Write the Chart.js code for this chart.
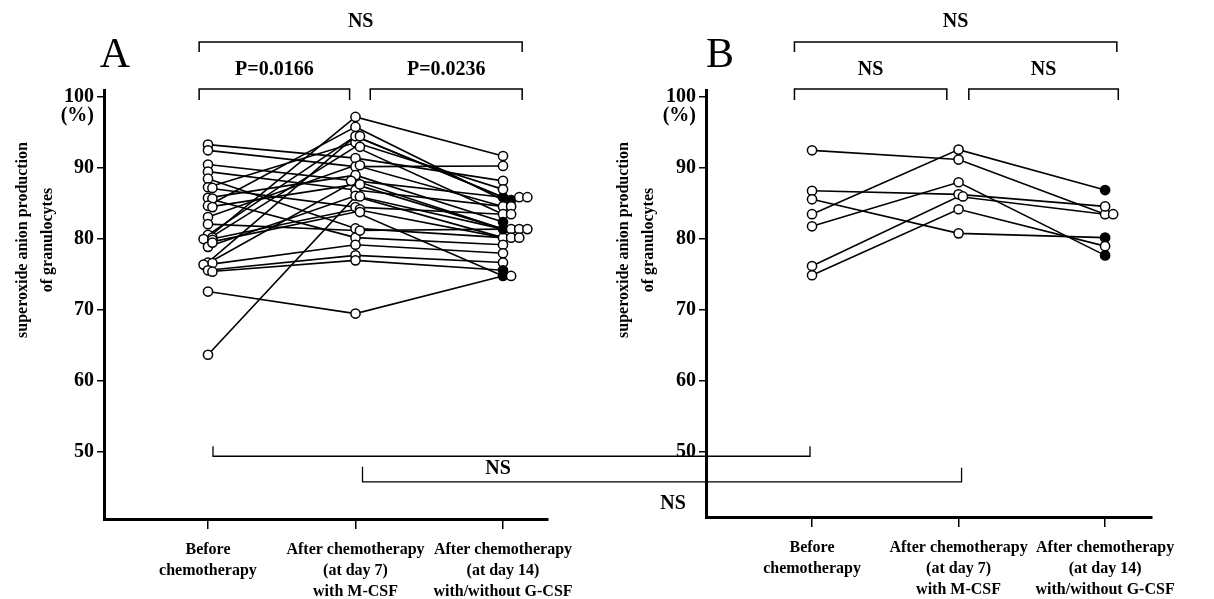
<!DOCTYPE html>
<html><head><meta charset="utf-8">
<script src="https://cdn.jsdelivr.net/npm/chart.js@4/dist/chart.umd.min.js"></script>
<style>
html,body{margin:0;padding:0;background:#fff;}
#wrap{position:relative;width:1214px;height:599px;overflow:hidden;}
.pane{position:absolute;top:0;width:607px;height:599px;}
</style></head><body>
<div id="wrap">
<div class="pane" style="left:0"><canvas id="cA"></canvas></div>
<div class="pane" style="left:607px"><canvas id="cB"></canvas></div>
</div>
<script>
// ---------- data ----------
const categories = [
  ["Before", "chemotherapy"],
  ["After chemotherapy", "(at day 7)", "with M-CSF"],
  ["After chemotherapy", "(at day 14)", "with/without G-CSF"]
];
const yTickValues = [50, 60, 70, 80, 90, 100];
const yTitle = ["superoxide anion production", "of granulocytes"];

// Panel A (each index = one patient)
const beforeA = [93.3, 92.5, 90.5, 89.5, 88.5, 87.3, 87.2, 85.8, 85.7, 84.7, 84.5, 83.1, 82.1, 80.6, 80.2, 80.0, 79.9, 78.9, 76.7, 76.6, 76.4, 75.6, 75.4, 72.6, 63.7, 79.5];
const day7A   = [91.4, 90.2, 88.2, 86.9, 81.5, 93.6, 84.5, 89.0, 80.2, 95.8, 87.7, 90.4, 81.2, 94.5, 97.2, 93.0, 84.2, 86.1, 94.5, 88.2, 79.2, 77.7, 77.0, 69.5, 86.0, 83.8];
const day14A  = [88.2, 90.3, 85.9, 84.6, 80.2, 87.0, 83.5, 82.4, 79.2, 85.5, 81.4, 84.6, 81.4, 85.9, 91.7, 83.5, 80.2, 81.4, 85.9, 81.4, 78.0, 76.7, 75.6, 74.8, 80.2, 74.8];
const withGcsfA = [0, 0, 1, 0, 0, 0, 0, 1, 0, 1, 1, 0, 0, 0, 0, 0, 0, 0, 0, 0, 0, 0, 1, 1, 0, 0];

// Panel B
const beforeB = [92.5, 86.8, 85.6, 83.5, 81.8, 76.2, 74.9];
const day7B   = [91.2, 86.3, 80.8, 92.6, 88.0, 86.0, 84.2];
const day14B  = [83.5, 84.6, 80.2, 86.9, 77.7, 83.5, 79.0];
const withGcsfB = [0, 0, 1, 1, 1, 0, 0];

const labelsA = { letter: "A", all: "NS", first: "P=0.0166", second: "P=0.0236" };
const labelsB = { letter: "B", all: "NS", first: "NS", second: "NS" };
const crossLabel = "NS";

// ---------- helpers ----------
const SERIF = '"Liberation Serif", "Times New Roman", serif';

function dodge(values, col) {
  const placed = [];
  return values.map(v => {
    const k = placed.filter(p => Math.abs(p - v) < 0.7).length;
    placed.push(v);
    let off = 0;
    if (col === 2) off = k * 0.055;
    else if (k > 0) off = (k % 2 ? 0.03 : -0.03);
    return { x: col + off, y: v };
  });
}

function bracket(ctx, x1, x2, y, drop, label, labelY) {
  ctx.beginPath();
  ctx.moveTo(x1, y + drop); ctx.lineTo(x1, y); ctx.lineTo(x2, y); ctx.lineTo(x2, y + drop);
  ctx.stroke();
  ctx.font = 'bold 20px ' + SERIF;
  ctx.textAlign = 'center'; ctx.textBaseline = 'middle';
  ctx.fillText(label, (x1 + x2) / 2, labelY);
}

function makePanel(id, before, day7, day14, gcsf, cfg) {
  const pts = [];
  const bg = [];
  [before, day7, day14].forEach((arr, col) => {
    dodge(arr, col).forEach((p, i) => {
      pts.push(p);
      bg.push(col === 2 && gcsf[i] ? '#000' : '#fff');
    });
  });
  const datasets = [{
    type: 'scatter', data: pts, showLine: false,
    pointRadius: 4.6, pointBorderWidth: 1.5, pointBorderColor: '#000',
    pointBackgroundColor: bg, order: 0
  }];
  before.forEach((b, i) => {
    datasets.push({
      type: 'line',
      data: [{ x: 0, y: b }, { x: 1, y: day7[i] }, { x: 2, y: day14[i] }],
      borderColor: '#000', borderWidth: 1.6, pointRadius: 0, tension: 0, fill: false, order: 1
    });
  });

  const annot = {
    id: 'annot' + id,
    afterDraw(chart) {
      const { ctx } = chart;
      const x = chart.scales.x, y = chart.scales.y;
      const X = v => x.getPixelForValue(v);
      const Y = v => y.getPixelForValue(v);
      ctx.save();
      ctx.fillStyle = '#000'; ctx.strokeStyle = '#000'; ctx.lineWidth = 1.5;
      // panel letter
      ctx.font = '42px ' + SERIF;
      ctx.textAlign = 'center'; ctx.textBaseline = 'middle';
      ctx.fillText(cfg.labels.letter, cfg.letterX, 56);
      // significance brackets
      bracket(ctx, X(cfg.top[0]), X(cfg.top[1]), 42, 10, cfg.labels.all, 22);
      bracket(ctx, X(cfg.left[0]), X(cfg.left[1]), 89, 11, cfg.labels.first, 70);
      bracket(ctx, X(cfg.right[0]), X(cfg.right[1]), 89, 11, cfg.labels.second, 70);
      // (%) under 100
      ctx.font = 'bold 20px ' + SERIF;
      ctx.textAlign = 'right'; ctx.textBaseline = 'middle';
      ctx.fillText('(%)', y.right - 10, Y(100) + 19);
      // y title
      ctx.save();
      ctx.translate(cfg.titleX, 240);
      ctx.rotate(-Math.PI / 2);
      ctx.font = 'bold 16px ' + SERIF;
      ctx.textAlign = 'center'; ctx.textBaseline = 'middle';
      ctx.fillText(yTitle[0], 0, -12);
      ctx.fillText(yTitle[1], 0, 13);
      ctx.restore();
      // cross-panel comparison lines
      const y1 = Y(49.4), y2 = Y(45.8);
      ctx.lineWidth = 1.3;
      ctx.beginPath();
      if (cfg.side === 'A') {
        const s1 = X(0) + 5, s2 = X(1) + 7;
        ctx.moveTo(s1, y1 - 10); ctx.lineTo(s1, y1); ctx.lineTo(chart.width, y1);
        ctx.moveTo(s2, y2 - 15); ctx.lineTo(s2, y2); ctx.lineTo(chart.width, y2);
        ctx.stroke();
        ctx.font = 'bold 20px ' + SERIF; ctx.textAlign = 'center';
        ctx.fillText(crossLabel, cfg.crossX, (y1 + y2) / 2);
      } else {
        const e1 = X(0) - 2, e2 = X(1) + 3;
        ctx.moveTo(0, y1); ctx.lineTo(e1, y1); ctx.lineTo(e1, y1 - 10);
        ctx.moveTo(0, y2); ctx.lineTo(e2, y2); ctx.lineTo(e2, y2 - 14);
        ctx.stroke();
        ctx.font = 'bold 20px ' + SERIF; ctx.textAlign = 'center';
        ctx.fillText(crossLabel, cfg.crossX, y2 + 22);
      }
      ctx.restore();
    }
  };

  return new Chart(document.getElementById(id), {
    type: 'scatter',
    data: { datasets },
    options: {
      responsive: true, maintainAspectRatio: false, animation: false,
      layout: { padding: { left: 0, right: cfg.padRight, top: 90, bottom: 0 } },
      plugins: { legend: { display: false }, tooltip: { enabled: false } },
      scales: {
        x: {
          type: 'linear', min: cfg.xmin, max: cfg.xmax,
          afterBuildTicks: s => { s.ticks = [0, 1, 2].map(v => ({ value: v })); },
          afterFit: s => { s.height = cfg.xHeight; },
          ticks: {
            autoSkip: false, maxRotation: 0, color: '#000', padding: 10,
            font: { family: SERIF, size: 16, weight: 'bold', lineHeight: 1.33 },
            callback: v => categories[Math.round(v)]
          },
          grid: { drawOnChartArea: false, tickLength: 10, color: '#000', lineWidth: 1.5 },
          border: { display: true, color: '#000', width: 3 }
        },
        y: {
          type: 'linear', min: cfg.ymin, max: cfg.ymax,
          afterBuildTicks: s => { s.ticks = yTickValues.map(v => ({ value: v })); },
          afterFit: s => { s.width = cfg.yWidth; },
          ticks: {
            color: '#000', padding: 3,
            font: { family: SERIF, size: 20, weight: 'bold' }
          },
          grid: { drawOnChartArea: false, tickLength: 7, color: '#000', lineWidth: 1.5 },
          border: { display: true, color: '#000', width: 3 }
        }
      }
    },
    plugins: [annot]
  });
}

makePanel('cA', beforeA, day7A, day14A, withGcsfA, {
  side: 'A', labels: labelsA, letterX: 115, titleX: 35, crossX: 498,
  yWidth: 104, padRight: 59, xHeight: 80,
  xmin: -0.705, xmax: 2.305, ymin: 40.56, ymax: 101.0,
  top: [-0.06, 2.13], left: [-0.06, 0.96], right: [1.1, 2.13]
});
makePanel('cB', beforeB, day7B, day14B, withGcsfB, {
  side: 'B', labels: labelsB, letterX: 113, titleX: 29, crossX: 66,
  yWidth: 99, padRight: 62, xHeight: 82,
  xmin: -0.7235, xmax: 2.32, ymin: 40.84, ymax: 101.0,
  top: [-0.12, 2.08], left: [-0.12, 0.92], right: [1.07, 2.09]
});
</script>
</body></html>
